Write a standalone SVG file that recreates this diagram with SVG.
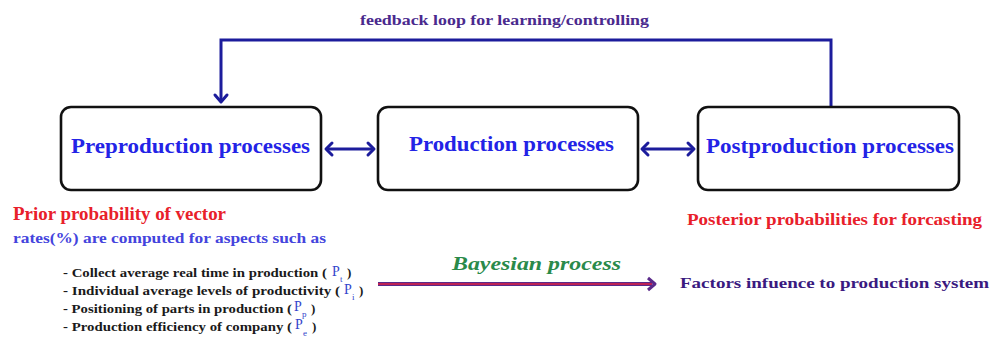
<svg xmlns="http://www.w3.org/2000/svg" width="992" height="344" viewBox="0 0 992 344">
<style>
  .box { fill: #ffffff; stroke: #111111; stroke-width: 2.6; }
  .conn { fill: none; stroke: #1c1c9c; stroke-width: 3; }
  .head { fill: none; stroke: #1c1c9c; stroke-width: 3; stroke-linecap: round; stroke-linejoin: round; }
  .node { fill: #2323e6; font-size: 21px; }
  .bul { fill: #1a1a1a; font-size: 13px; }
  .pv { fill: #3344cc; font-size: 14px; font-weight: normal; }
  .ps { fill: #3344cc; font-size: 9px; font-weight: normal; }
</style>
<rect width="992" height="344" fill="#ffffff"/>
<g font-family="Liberation Serif" font-weight="bold">
<g id="connectors">
  <path class="conn" d="M831,107 V40 H221 V100"/>
  <path class="head" d="M215,95 L221,102 L227,95"/>
  <path class="conn" d="M327,149 H373"/>
  <path class="head" d="M332,143 L326,149 L332,155 M368,143 L374,149 L368,155"/>
  <path class="conn" d="M643,149 H693"/>
  <path class="head" d="M648,143 L642,149 L648,155 M688,143 L694,149 L688,155"/>
  <line x1="378" y1="284" x2="652" y2="284" stroke="#5a2a8a" stroke-width="4"/>
  <line x1="378" y1="284" x2="652" y2="284" stroke="#e02040" stroke-width="1.3"/>
  <path d="M648,278 L655,284 L648,290" fill="none" stroke="#5a2a8a" stroke-width="3" stroke-linejoin="round"/>
  <text x="360" y="25" font-size="15" fill="#4a2a8e" textLength="289" lengthAdjust="spacingAndGlyphs">feedback loop for learning/controlling</text>
  <text x="452" y="270" font-size="19" font-style="italic" fill="#2a8a4a" textLength="169" lengthAdjust="spacingAndGlyphs">Bayesian process</text>
</g>

<g id="preproduction">
  <rect class="box" x="61" y="107" width="260" height="83" rx="10"/>
  <text class="node" x="71" y="153" textLength="239" lengthAdjust="spacingAndGlyphs">Preproduction processes</text>
</g>
<g id="production">
  <rect class="box" x="378" y="107" width="260" height="83" rx="10"/>
  <text class="node" x="409" y="151" textLength="205" lengthAdjust="spacingAndGlyphs">Production processes</text>
</g>
<g id="postproduction">
  <rect class="box" x="698" y="107" width="261" height="83" rx="10"/>
  <text class="node" x="706" y="153" textLength="248" lengthAdjust="spacingAndGlyphs">Postproduction processes</text>
</g>

<g id="prior">
  <text x="13" y="220" font-size="19" fill="#e8202a" textLength="213" lengthAdjust="spacingAndGlyphs">Prior probability of vector</text>
  <text x="13" y="243" font-size="15.5" fill="#4444dd" textLength="313" lengthAdjust="spacingAndGlyphs">rates(%) are computed for aspects such as</text>
</g>

<g id="aspects">
  <text class="bul" x="63" y="277" textLength="264" lengthAdjust="spacingAndGlyphs">- Collect average real time in production (</text>
  <text class="pv" x="332" y="276">P</text><text class="ps" x="340" y="282">t</text>
  <text class="bul" x="347" y="277">)</text>

  <text class="bul" x="63" y="295" textLength="277" lengthAdjust="spacingAndGlyphs">- Individual average levels of productivity (</text>
  <text class="pv" x="344" y="294">P</text><text class="ps" x="352" y="300">i</text>
  <text class="bul" x="359" y="295">)</text>

  <text class="bul" x="63" y="313" textLength="229" lengthAdjust="spacingAndGlyphs">- Positioning of parts in production (</text>
  <text class="pv" x="294" y="311">P</text><text class="ps" x="302" y="317">p</text>
  <text class="bul" x="311" y="313">)</text>

  <text class="bul" x="63" y="331" textLength="229" lengthAdjust="spacingAndGlyphs">- Production efficiency of company (</text>
  <text class="pv" x="295" y="329">P</text><text class="ps" x="303" y="336">e</text>
  <text class="bul" x="312" y="331">)</text>
</g>

<g id="posterior">
  <text x="687" y="225" font-size="16" fill="#e8202a" textLength="295" lengthAdjust="spacingAndGlyphs">Posterior probabilities for forcasting</text>
</g>

<g id="factors">
  <text x="680" y="288" font-size="15.5" fill="#3a1a80" textLength="309" lengthAdjust="spacingAndGlyphs">Factors infuence to production system</text>
</g>
</g>
</svg>
